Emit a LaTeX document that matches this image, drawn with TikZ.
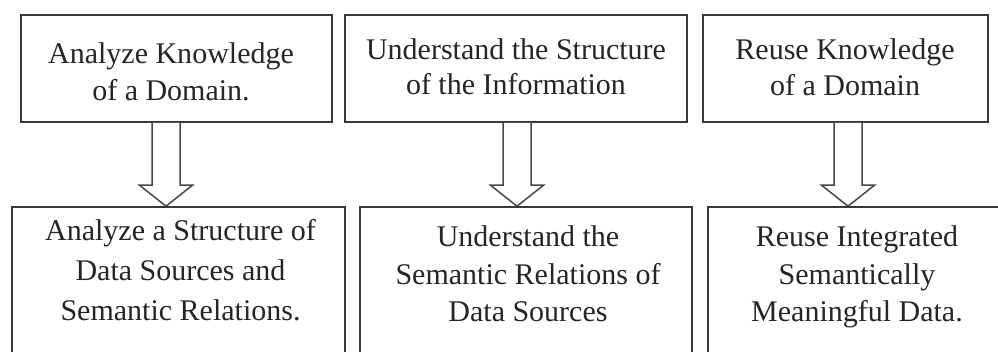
\documentclass[tikz,border=0pt]{standalone}
\usepackage{fontspec}
\setmainfont{Liberation Serif}
\usetikzlibrary{calc}
\begin{document}
\begin{tikzpicture}[x=1pt,y=-1pt,
  box/.style={draw=black!78, line width=1.6pt, inner sep=0pt, fill=none},
  lbl/.style={anchor=north, inner sep=0pt, align=center, text=black!85, font=\fontsize{30pt}{#1}\selectfont},
  blk/.style={draw=black!72, line width=1.5pt, fill=white, line join=miter}
]
\useasboundingbox (0,0) rectangle (998,352);
\clip (0,0) rectangle (998,352);
\fill[white] (0,0) rectangle (998,352);

% boxes
\node[box, minimum width=311pt, minimum height=107pt] (t1) at (176.5,68.5) {};
\node[box, minimum width=342pt, minimum height=107pt] (t2) at (516,68.5) {};
\node[box, minimum width=285pt, minimum height=107pt] (t3) at (845.5,68.5) {};
\node[box, minimum width=333pt, minimum height=193pt] (b1) at (178.5,303.5) {};
\node[box, minimum width=332pt, minimum height=193pt] (b2) at (526,303.5) {};
\node[box, minimum width=302pt, minimum height=193pt] (b3) at (859,303.5) {};

% texts
\node[lbl=37pt] (t1l) at (171,42.5) {Analyze Knowledge\\of a Domain.};
\node[lbl=35.5pt] (t2l) at (516,38) {Understand the Structure\\of the Information};
\node[lbl=35.5pt] (t3l) at (845,38.5) {Reuse Knowledge\\of a Domain};
\node[lbl=40pt] (b1l) at (180.5,219.5) {Analyze a Structure of\\Data Sources and\\Semantic Relations.};
\node[lbl=37.5pt] (b2l) at (528,225.5) {Understand the\\Semantic Relations of\\Data Sources};
\node[lbl=37.5pt] (b3l) at (857,225.5) {Reuse Integrated\\Semantically\\Meaningful Data.};

% arrow axes
\coordinate (x1) at (166,0);
\coordinate (x2) at (517,0);
\coordinate (x3) at (848,0);

\foreach \i in {1,2,3}{
  \coordinate (s\i) at (t\i.south -| x\i);
  \coordinate (e\i) at (b\i.north -| x\i);
  \draw[blk] ($(s\i)+(-14,0)$) -- ($(e\i)+(-14,-21)$) -- ($(e\i)+(-26.5,-21)$)
     -- (e\i) -- ($(e\i)+(26.5,-21)$) -- ($(e\i)+(14,-21)$) -- ($(s\i)+(14,0)$);
}
\end{tikzpicture}
\end{document}
